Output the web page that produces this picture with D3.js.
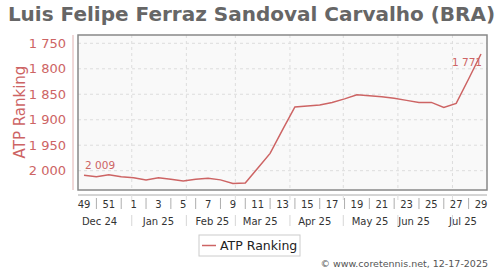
<!DOCTYPE html>
<html>
<head>
<meta charset="utf-8">
<script src="https://cdn.jsdelivr.net/npm/d3@7"></script>
<style>
  body { margin: 0; background: #fff; }
  svg { display: block; font-family: "DejaVu Sans", sans-serif; }
</style>
</head>
<body>
<div class="chart"></div>
<script>
const title = "Luis Felipe Ferraz Sandoval Carvalho (BRA)";
const weeks = [49, 50, 51, 52, 1, 2, 3, 4, 5, 6, 7, 8, 9, 10, 11, 12, 13, 14, 15, 16, 17, 18, 19, 20, 21, 22, 23, 24, 25, 26, 27, 28, 29];
const ranking = [2009, 2012, 2008, 2012, 2014, 2018, 2014, 2017, 2020, 2017, 2015, 2018, 2025, 2024, 1995, 1966, 1920, 1875, 1873, 1871, 1866, 1859, 1851, 1853, 1855, 1858, 1862, 1866, 1866, 1876, 1868, 1820, 1771];
const yTicks = [1750, 1800, 1850, 1900, 1950, 2000];
// month boundaries as (fractional) week index
const monthBreaks = [3.85, 8.25, 12.2, 16.6, 20.9, 25.3, 29.7];
const months = ["Dec 24", "Jan 25", "Feb 25", "Mar 25", "Apr 25", "May 25", "Jun 25", "Jul 25"];
const monthCenters = [1.25, 6.0, 10.35, 14.2, 18.6, 23.05, 26.6, 30.55];

const width = 500, height = 270;
const plotL = 78, plotR = 487, plotT = 35, plotB = 190;
const red = "#cd6464";

const svg = d3.select(".chart").append("svg")
  .attr("width", width).attr("height", height);

svg.append("text")
  .attr("x", 251.5).attr("y", 21)
  .attr("text-anchor", "middle")
  .style("font-size", "20px").style("font-weight", "bold")
  .attr("fill", "#666")
  .text(title);

const x = d3.scaleLinear().domain([0, weeks.length - 1]).range([84, 481]);
const y = d3.scaleLinear().domain([1750, 2000]).range([43.3, 170.7]);

const fmt = d3.formatLocale({ decimal: ".", thousands: " ", grouping: [3], currency: ["", ""] }).format(",d");

// plot background
svg.append("rect")
  .attr("x", plotL).attr("y", plotT)
  .attr("width", plotR - plotL).attr("height", plotB - plotT)
  .attr("fill", "#f9f9f9");

// grid
svg.append("g").selectAll("line").data(yTicks).join("line")
  .attr("x1", plotL).attr("x2", plotR)
  .attr("y1", d => y(d)).attr("y2", d => y(d))
  .attr("stroke", "#ddd").attr("stroke-dasharray", "3,3");
svg.append("g").selectAll("line").data(monthBreaks).join("line")
  .attr("x1", d => x(d)).attr("x2", d => x(d))
  .attr("y1", plotT).attr("y2", plotB)
  .attr("stroke", "#ddd").attr("stroke-dasharray", "3,3");

svg.append("rect")
  .attr("x", plotL).attr("y", plotT)
  .attr("width", plotR - plotL).attr("height", plotB - plotT)
  .attr("fill", "none").attr("stroke", "#888").attr("stroke-width", 1.5);

// y axis
const yAxis = svg.append("g").attr("transform", `translate(73,0)`)
  .call(d3.axisLeft(y).tickValues(yTicks).tickFormat(fmt).tickSize(0).tickPadding(7));
yAxis.select(".domain").attr("stroke", "#e0b0b0").attr("d", `M0,${plotT}V${plotB}`);
yAxis.selectAll("text").attr("fill", red).style("font-size", "13px").attr("font-family", "DejaVu Sans");

svg.append("text")
  .attr("transform", "translate(25,112) rotate(-90)")
  .attr("text-anchor", "middle")
  .style("font-size", "15px")
  .attr("fill", red)
  .text("ATP Ranking");

// x axis
const xAxis = svg.append("g").attr("transform", `translate(0,195)`);
xAxis.append("line").attr("x1", plotL).attr("x2", plotR).attr("y1", 0).attr("y2", 0)
  .attr("stroke", "#aaa").attr("stroke-width", 1);
xAxis.selectAll(".mtick").data(monthBreaks).join("line")
  .attr("x1", d => x(d)).attr("x2", d => x(d))
  .attr("y1", 0).attr("y2", 5).attr("stroke", "#ddd");
const idx = d3.range(weeks.length);
xAxis.selectAll(".wk").data(idx.filter(i => i % 2 === 0)).join("text")
  .attr("x", i => x(i)).attr("y", 13)
  .attr("text-anchor", "middle")
  .style("font-size", "10px").attr("fill", "#333")
  .text(i => weeks[i]);
xAxis.selectAll(".sep").data(idx.filter(i => i % 2 === 1)).join("line")
  .attr("x1", i => x(i)).attr("x2", i => x(i))
  .attr("y1", 3).attr("y2", 14)
  .attr("stroke", "#999").attr("stroke-width", 0.8);
xAxis.selectAll(".mon").data(months).join("text")
  .attr("x", (d, i) => x(monthCenters[i])).attr("y", 30)
  .attr("text-anchor", "middle")
  .style("font-size", "10px").attr("fill", "#333")
  .text(d => d);
xAxis.selectAll(".msep").data(monthBreaks).join("line")
  .attr("x1", d => x(d)).attr("x2", d => x(d))
  .attr("y1", 20).attr("y2", 31)
  .attr("stroke", "#ccc").attr("stroke-width", 0.8);

// line
const line = d3.line().x((d, i) => x(i)).y(d => y(d));
svg.append("path").datum(ranking)
  .attr("d", line)
  .attr("fill", "none").attr("stroke", red).attr("stroke-width", 1.5);

svg.append("text")
  .attr("x", x(0) + 1).attr("y", y(ranking[0]) - 6)
  .style("font-size", "10.5px").attr("fill", red)
  .text(fmt(ranking[0]));
const last = ranking.length - 1;
svg.append("text")
  .attr("x", x(last) + 1).attr("y", y(ranking[last]) + 12)
  .attr("text-anchor", "end")
  .style("font-size", "10.5px").attr("fill", red)
  .text(fmt(ranking[last]));

// legend
const lg = svg.append("g").attr("transform", "translate(199,235)");
lg.append("rect").attr("width", 101).attr("height", 21)
  .attr("fill", "#fff").attr("stroke", "#ccc");
lg.append("line").attr("x1", 3).attr("x2", 17).attr("y1", 10.5).attr("y2", 10.5)
  .attr("stroke", red).attr("stroke-width", 1.5);
lg.append("text").attr("x", 21).attr("y", 15)
  .style("font-size", "12.5px").attr("fill", "#222")
  .text("ATP Ranking");

svg.append("text")
  .attr("x", 488).attr("y", 267)
  .attr("text-anchor", "end")
  .style("font-size", "9.5px").attr("fill", "#555")
  .text("© www.coretennis.net, 12-17-2025");
</script>
</body>
</html>
